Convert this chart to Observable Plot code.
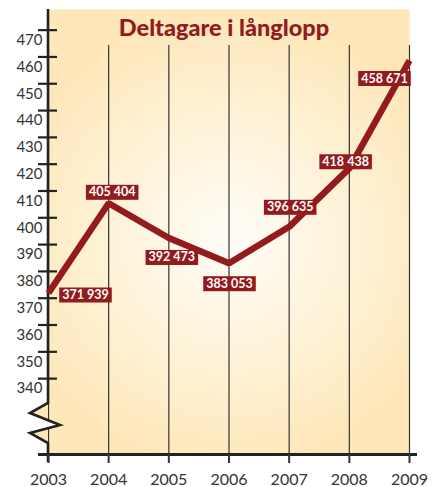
<!DOCTYPE html>
<html>
<head>
<meta charset="utf-8">
<script src="https://cdn.jsdelivr.net/npm/d3@7"></script>
<script src="https://cdn.jsdelivr.net/npm/@observablehq/plot@0.6"></script>
<style>
  html, body { margin: 0; padding: 0; background: #ffffff; }
  #chart svg { display: block; }
</style>
</head>
<body>
<div id="chart"></div>
<script>
// ---- data ----
const title = "Deltagare i långlopp";
const years = [2003, 2004, 2005, 2006, 2007, 2008, 2009];
const participants = [371939, 405404, 392473, 383053, 396635, 418438, 458671];
const yTicks = [340, 350, 360, 370, 380, 390, 400, 410, 420, 430, 440, 450, 460, 470];
const yDomain = [311.7, 477.7]; // thousands; axis is broken below 340

// ---- styling ----
const RED = "#931a1d";
const INK = "#222";
const FONT = "Lato, 'Open Sans', sans-serif";
const fmt = n => String(n).replace(/\B(?=(\d{3})+(?!\d))/g, " ");
const data = years.map((year, i) => ({year, value: participants[i] / 1000, label: fmt(participants[i])}));
// label nudges (pixels) relative to each point
const nudge = [[37, 2], [3.5, -11], [3, 19.5], [0.5, 20.5], [1, -19.5], [-3.7, -6.6], [-25, 18]];

const defs = () => {
  const d = d3.create("svg:defs");
  const g = d.append("radialGradient").attr("id", "bg")
    .attr("gradientUnits", "userSpaceOnUse")
    .attr("cx", 228).attr("cy", 240).attr("r", 230);
  g.append("stop").attr("offset", 0).attr("stop-color", "#fffdf8");
  g.append("stop").attr("offset", 0.45).attr("stop-color", "#fef4dc");
  g.append("stop").attr("offset", 1).attr("stop-color", "#fee7b9");
  return d.node();
};

const brokenAxis = (index, {x, y}, values, dims) => {
  const x0 = x(years[0]);
  const top = dims.marginTop, base = y(yDomain[0]);
  const P = [[x0, top], [x0, base - 51], [x0 - 18, base - 41], [x0 + 12, base - 29], [x0 - 18, base - 21], [x0, base - 11], [x0, base + 8]];
  const cross = (a, b) => { const t = (x0 - a[0]) / (b[0] - a[0]); return [x0, a[1] + t * (b[1] - a[1])]; };
  const c1 = cross(P[2], P[3]), c2 = cross(P[3], P[4]);
  const g = d3.create("svg:g");
  g.append("path").attr("d", d3.line()([P[1], P[2], c1])).attr("fill", "#fee7b9");
  g.append("path").attr("d", d3.line()([c2, P[4], P[5]])).attr("fill", "#fee7b9");
  g.append("path").attr("d", d3.line()([c1, P[3], c2])).attr("fill", "#ffffff");
  g.append("path").attr("d", d3.line()(P)).attr("fill", "none")
    .attr("stroke", INK).attr("stroke-width", 2.6).attr("stroke-linejoin", "miter");
  return g.node();
};

const chart = Plot.plot({
  width: 432,
  height: 487,
  marginLeft: 48,
  marginRight: 23,
  marginTop: 9,
  marginBottom: 33,
  style: {background: "transparent", fontFamily: FONT},
  x: {type: "linear", domain: [2003, 2009], label: null},
  y: {domain: yDomain, label: null},
  marks: [
    defs,
    Plot.frame({fill: "url(#bg)"}),
    Plot.ruleX(years, {insetTop: 36, stroke: "#333", strokeWidth: 1.2}),
    Plot.ruleY(yTicks, {x1: 2003, x2: 2003, insetLeft: -10, insetRight: -9, stroke: INK, strokeWidth: 2.2}),
    Plot.ruleY([yDomain[0]], {insetLeft: -10, insetRight: -8, stroke: INK, strokeWidth: 3}),
    brokenAxis,
    Plot.axisY(yTicks, {tickSize: 0, tickPadding: 6, dy: 10, fontSize: 15, color: "#333", tickFormat: d => String(d)}),
    Plot.axisX(years, {tickSize: 9, tickPadding: 10, fontSize: 16, color: "#333", strokeWidth: 2, tickFormat: d => String(d)}),
    Plot.text([title], {frameAnchor: "top", dx: -5, dy: 18.5, lineAnchor: "middle", fontSize: 23.5, fontWeight: 900, fill: RED}),
    Plot.line(data, {x: "year", y: "value", stroke: RED, strokeWidth: 6.5, strokeLinejoin: "miter", strokeLinecap: "butt"}),
    ...data.map((d, i) => Plot.text([d], {
      x: "year", y: "value", text: "label", dx: nudge[i][0], dy: nudge[i][1],
      lineAnchor: "middle", fill: "white", fontSize: 12.5, fontWeight: "bold", ariaLabel: () => "value-label"
    }))
  ]
});

document.getElementById("chart").append(chart);

// red boxes behind the value labels
chart.querySelectorAll('text[aria-label="value-label"]').forEach(t => {
  const b = t.getBBox();
  const r = document.createElementNS("http://www.w3.org/2000/svg", "rect");
  r.setAttribute("x", b.x - 3);
  r.setAttribute("y", b.y + 0.5);
  r.setAttribute("width", b.width + 6);
  r.setAttribute("height", b.height);
  r.setAttribute("fill", RED);
  if (t.getAttribute("transform")) r.setAttribute("transform", t.getAttribute("transform"));
  t.parentNode.insertBefore(r, t);
});
</script>
</body>
</html>
